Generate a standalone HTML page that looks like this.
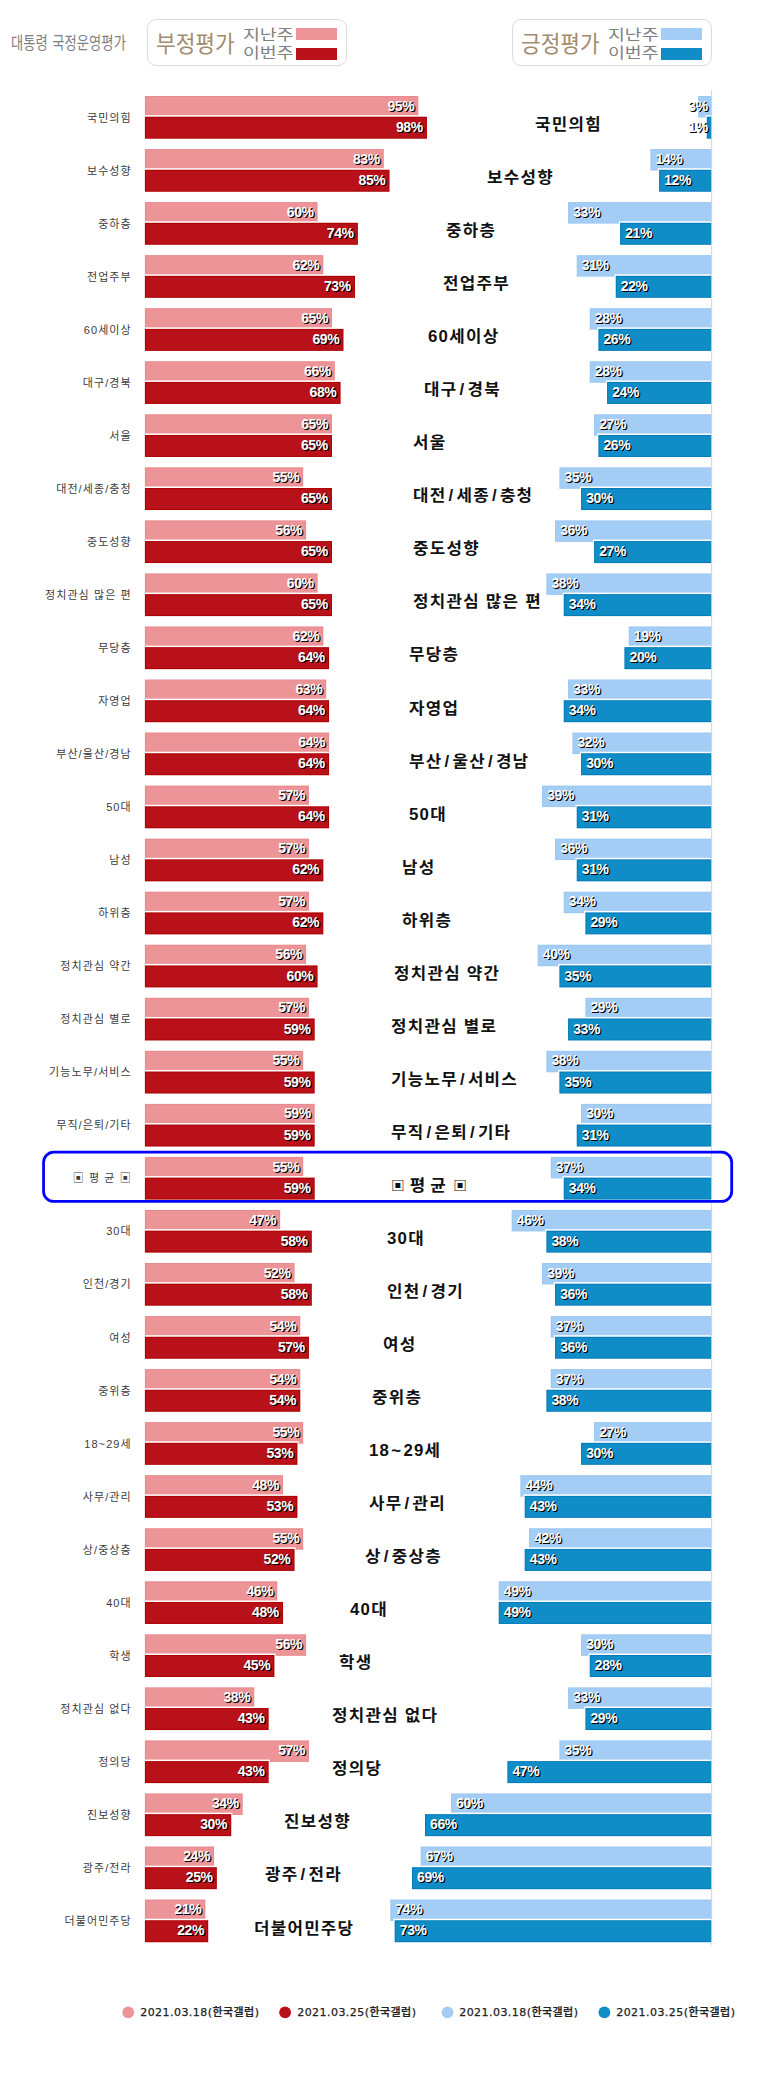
<!DOCTYPE html>
<html lang="ko"><head><meta charset="utf-8"><title>대통령 국정운영평가</title>
<style>
html,body{margin:0;padding:0;background:#fff}
body{width:767px;height:2100px;position:relative;overflow:hidden;font-family:"Liberation Sans","Noto Sans CJK KR",sans-serif}
svg{position:absolute;left:0;top:0}
div{position:absolute;white-space:nowrap}
.v{font:bold 14px/14px "Liberation Sans","Noto Sans CJK KR",sans-serif;color:#fff;text-shadow:1px 1px 0 #000,1.3px 1.3px 0 rgba(0,0,0,.55);letter-spacing:-.4px}
.s{right:635.2px;font:400 11px/16px "Liberation Sans","Noto Sans CJK KR",sans-serif;color:#3c3c3c;letter-spacing:1.1px}
.c span{padding:0 1.95px}
.c em{font-style:normal;padding:0 1px}
.avg{letter-spacing:0;word-spacing:-2px}
.avg span{font-size:13px;padding:0;position:relative;top:-1px}
.c{font:700 16px/24px "Liberation Sans","Noto Sans CJK KR",sans-serif;color:#111;letter-spacing:1.2px;transform:scaleX(1.05);transform-origin:0 0}
.ttl{left:11.1px;top:30.5px;font:400 16.5px/24px "Liberation Sans","Noto Sans CJK KR",sans-serif;color:#7f7f7f;transform:scale(.808,1.03);transform-origin:0 82%;word-spacing:1px}
.lg{top:18.5px;width:198px;height:45px;border:1px solid #ddd;border-radius:9px;background:#fff}
.lg b{position:absolute;left:8px;top:10px;font:400 23px/28px "Liberation Sans","Noto Sans CJK KR",sans-serif;color:#a38b6d;transform:scaleX(.93);transform-origin:0 0}
.lg i{position:absolute;left:95px;font:400 15px/16px "Liberation Sans","Noto Sans CJK KR",sans-serif;font-style:normal;color:#808080;transform:scaleX(1.22);transform-origin:0 0}
.lg u{position:absolute;left:148px;width:41.2px;height:11.7px}
.bl{top:2005.3px;font:500 11px/16px "DejaVu Sans","Noto Sans CJK KR",sans-serif;color:#222;letter-spacing:.45px;-webkit-text-stroke:.25px #222}
</style></head><body>
<svg width="767" height="2100" viewBox="0 0 767 2100">
<rect x="711.1" y="90" width="1" height="1855" fill="#c9d6ee"/>
<rect x="144.9" y="96" width="273.41" height="21.5" fill="#e98a8e"/>
<rect x="145.9" y="97" width="271.41" height="19.5" fill="#ec9497"/>
<rect x="698.1" y="96" width="13" height="21.5" fill="#9cc8f2"/>
<rect x="699.1" y="97" width="12" height="19.5" fill="#a3cdf5"/>
<rect x="144.9" y="115.2" width="283.24" height="23.5" fill="#fff"/>
<rect x="705.56" y="115.2" width="5.54" height="23.5" fill="#fff"/>
<rect x="144.9" y="116.7" width="282.04" height="22" fill="#ae0002"/>
<rect x="145.9" y="117.7" width="280.04" height="20" fill="#b8111a"/>
<rect x="706.76" y="116.7" width="4.34" height="22" fill="#047cba"/>
<rect x="707.76" y="117.7" width="3.34" height="20" fill="#108cc7"/>
<rect x="144.9" y="149.05" width="238.87" height="21.5" fill="#e98a8e"/>
<rect x="145.9" y="150.05" width="236.87" height="19.5" fill="#ec9497"/>
<rect x="650.41" y="149.05" width="60.69" height="21.5" fill="#9cc8f2"/>
<rect x="651.41" y="150.05" width="59.69" height="19.5" fill="#a3cdf5"/>
<rect x="144.9" y="168.25" width="245.83" height="23.5" fill="#fff"/>
<rect x="657.88" y="168.25" width="53.22" height="23.5" fill="#fff"/>
<rect x="144.9" y="169.75" width="244.63" height="22" fill="#ae0002"/>
<rect x="145.9" y="170.75" width="242.63" height="20" fill="#b8111a"/>
<rect x="659.08" y="169.75" width="52.02" height="22" fill="#047cba"/>
<rect x="660.08" y="170.75" width="51.02" height="20" fill="#108cc7"/>
<rect x="144.9" y="202.09" width="172.68" height="21.5" fill="#e98a8e"/>
<rect x="145.9" y="203.09" width="170.68" height="19.5" fill="#ec9497"/>
<rect x="568.05" y="202.09" width="143.05" height="21.5" fill="#9cc8f2"/>
<rect x="569.05" y="203.09" width="142.05" height="19.5" fill="#a3cdf5"/>
<rect x="144.9" y="221.29" width="214.17" height="23.5" fill="#fff"/>
<rect x="618.87" y="221.29" width="92.23" height="23.5" fill="#fff"/>
<rect x="144.9" y="222.79" width="212.97" height="22" fill="#ae0002"/>
<rect x="145.9" y="223.79" width="210.97" height="20" fill="#b8111a"/>
<rect x="620.07" y="222.79" width="91.03" height="22" fill="#047cba"/>
<rect x="621.07" y="223.79" width="90.03" height="20" fill="#108cc7"/>
<rect x="144.9" y="255.13" width="178.44" height="21.5" fill="#e98a8e"/>
<rect x="145.9" y="256.13" width="176.44" height="19.5" fill="#ec9497"/>
<rect x="576.72" y="255.13" width="134.38" height="21.5" fill="#9cc8f2"/>
<rect x="577.72" y="256.13" width="133.38" height="19.5" fill="#a3cdf5"/>
<rect x="144.9" y="274.33" width="211.29" height="23.5" fill="#fff"/>
<rect x="614.53" y="274.33" width="96.57" height="23.5" fill="#fff"/>
<rect x="144.9" y="275.83" width="210.09" height="22" fill="#ae0002"/>
<rect x="145.9" y="276.83" width="208.09" height="20" fill="#b8111a"/>
<rect x="615.73" y="275.83" width="95.37" height="22" fill="#047cba"/>
<rect x="616.73" y="276.83" width="94.37" height="20" fill="#108cc7"/>
<rect x="144.9" y="308.18" width="187.07" height="21.5" fill="#e98a8e"/>
<rect x="145.9" y="309.18" width="185.07" height="19.5" fill="#ec9497"/>
<rect x="589.72" y="308.18" width="121.38" height="21.5" fill="#9cc8f2"/>
<rect x="590.72" y="309.18" width="120.38" height="19.5" fill="#a3cdf5"/>
<rect x="144.9" y="327.38" width="199.78" height="23.5" fill="#fff"/>
<rect x="597.19" y="327.38" width="113.91" height="23.5" fill="#fff"/>
<rect x="144.9" y="328.88" width="198.58" height="22" fill="#ae0002"/>
<rect x="145.9" y="329.88" width="196.58" height="20" fill="#b8111a"/>
<rect x="598.39" y="328.88" width="112.71" height="22" fill="#047cba"/>
<rect x="599.39" y="329.88" width="111.71" height="20" fill="#108cc7"/>
<rect x="144.9" y="361.23" width="189.95" height="21.5" fill="#e98a8e"/>
<rect x="145.9" y="362.23" width="187.95" height="19.5" fill="#ec9497"/>
<rect x="589.72" y="361.23" width="121.38" height="21.5" fill="#9cc8f2"/>
<rect x="590.72" y="362.23" width="120.38" height="19.5" fill="#a3cdf5"/>
<rect x="144.9" y="380.43" width="196.9" height="23.5" fill="#fff"/>
<rect x="605.86" y="380.43" width="105.24" height="23.5" fill="#fff"/>
<rect x="144.9" y="381.93" width="195.7" height="22" fill="#ae0002"/>
<rect x="145.9" y="382.93" width="193.7" height="20" fill="#b8111a"/>
<rect x="607.06" y="381.93" width="104.04" height="22" fill="#047cba"/>
<rect x="608.06" y="382.93" width="103.04" height="20" fill="#108cc7"/>
<rect x="144.9" y="414.27" width="187.07" height="21.5" fill="#e98a8e"/>
<rect x="145.9" y="415.27" width="185.07" height="19.5" fill="#ec9497"/>
<rect x="594.06" y="414.27" width="117.04" height="21.5" fill="#9cc8f2"/>
<rect x="595.06" y="415.27" width="116.04" height="19.5" fill="#a3cdf5"/>
<rect x="144.9" y="433.47" width="188.27" height="23.5" fill="#fff"/>
<rect x="597.19" y="433.47" width="113.91" height="23.5" fill="#fff"/>
<rect x="144.9" y="434.97" width="187.07" height="22" fill="#ae0002"/>
<rect x="145.9" y="435.97" width="185.07" height="20" fill="#b8111a"/>
<rect x="598.39" y="434.97" width="112.71" height="22" fill="#047cba"/>
<rect x="599.39" y="435.97" width="111.71" height="20" fill="#108cc7"/>
<rect x="144.9" y="467.31" width="158.29" height="21.5" fill="#e98a8e"/>
<rect x="145.9" y="468.31" width="156.29" height="19.5" fill="#ec9497"/>
<rect x="559.38" y="467.31" width="151.73" height="21.5" fill="#9cc8f2"/>
<rect x="560.38" y="468.31" width="150.73" height="19.5" fill="#a3cdf5"/>
<rect x="144.9" y="486.51" width="188.27" height="23.5" fill="#fff"/>
<rect x="579.85" y="486.51" width="131.25" height="23.5" fill="#fff"/>
<rect x="144.9" y="488.01" width="187.07" height="22" fill="#ae0002"/>
<rect x="145.9" y="489.01" width="185.07" height="20" fill="#b8111a"/>
<rect x="581.05" y="488.01" width="130.05" height="22" fill="#047cba"/>
<rect x="582.05" y="489.01" width="129.05" height="20" fill="#108cc7"/>
<rect x="144.9" y="520.36" width="161.17" height="21.5" fill="#e98a8e"/>
<rect x="145.9" y="521.36" width="159.17" height="19.5" fill="#ec9497"/>
<rect x="555.04" y="520.36" width="156.06" height="21.5" fill="#9cc8f2"/>
<rect x="556.04" y="521.36" width="155.06" height="19.5" fill="#a3cdf5"/>
<rect x="144.9" y="539.56" width="188.27" height="23.5" fill="#fff"/>
<rect x="592.86" y="539.56" width="118.24" height="23.5" fill="#fff"/>
<rect x="144.9" y="541.06" width="187.07" height="22" fill="#ae0002"/>
<rect x="145.9" y="542.06" width="185.07" height="20" fill="#b8111a"/>
<rect x="594.06" y="541.06" width="117.04" height="22" fill="#047cba"/>
<rect x="595.06" y="542.06" width="116.04" height="20" fill="#108cc7"/>
<rect x="144.9" y="573.4" width="172.68" height="21.5" fill="#e98a8e"/>
<rect x="145.9" y="574.4" width="170.68" height="19.5" fill="#ec9497"/>
<rect x="546.37" y="573.4" width="164.73" height="21.5" fill="#9cc8f2"/>
<rect x="547.37" y="574.4" width="163.73" height="19.5" fill="#a3cdf5"/>
<rect x="144.9" y="592.61" width="188.27" height="23.5" fill="#fff"/>
<rect x="562.51" y="592.61" width="148.59" height="23.5" fill="#fff"/>
<rect x="144.9" y="594.11" width="187.07" height="22" fill="#ae0002"/>
<rect x="145.9" y="595.11" width="185.07" height="20" fill="#b8111a"/>
<rect x="563.71" y="594.11" width="147.39" height="22" fill="#047cba"/>
<rect x="564.71" y="595.11" width="146.39" height="20" fill="#108cc7"/>
<rect x="144.9" y="626.45" width="178.44" height="21.5" fill="#e98a8e"/>
<rect x="145.9" y="627.45" width="176.44" height="19.5" fill="#ec9497"/>
<rect x="628.74" y="626.45" width="82.37" height="21.5" fill="#9cc8f2"/>
<rect x="629.74" y="627.45" width="81.37" height="19.5" fill="#a3cdf5"/>
<rect x="144.9" y="645.65" width="185.39" height="23.5" fill="#fff"/>
<rect x="623.2" y="645.65" width="87.9" height="23.5" fill="#fff"/>
<rect x="144.9" y="647.15" width="184.19" height="22" fill="#ae0002"/>
<rect x="145.9" y="648.15" width="182.19" height="20" fill="#b8111a"/>
<rect x="624.4" y="647.15" width="86.7" height="22" fill="#047cba"/>
<rect x="625.4" y="648.15" width="85.7" height="20" fill="#108cc7"/>
<rect x="144.9" y="679.5" width="181.31" height="21.5" fill="#e98a8e"/>
<rect x="145.9" y="680.5" width="179.31" height="19.5" fill="#ec9497"/>
<rect x="568.05" y="679.5" width="143.05" height="21.5" fill="#9cc8f2"/>
<rect x="569.05" y="680.5" width="142.05" height="19.5" fill="#a3cdf5"/>
<rect x="144.9" y="698.7" width="185.39" height="23.5" fill="#fff"/>
<rect x="562.51" y="698.7" width="148.59" height="23.5" fill="#fff"/>
<rect x="144.9" y="700.2" width="184.19" height="22" fill="#ae0002"/>
<rect x="145.9" y="701.2" width="182.19" height="20" fill="#b8111a"/>
<rect x="563.71" y="700.2" width="147.39" height="22" fill="#047cba"/>
<rect x="564.71" y="701.2" width="146.39" height="20" fill="#108cc7"/>
<rect x="144.9" y="732.54" width="184.19" height="21.5" fill="#e98a8e"/>
<rect x="145.9" y="733.54" width="182.19" height="19.5" fill="#ec9497"/>
<rect x="572.38" y="732.54" width="138.72" height="21.5" fill="#9cc8f2"/>
<rect x="573.38" y="733.54" width="137.72" height="19.5" fill="#a3cdf5"/>
<rect x="144.9" y="751.74" width="185.39" height="23.5" fill="#fff"/>
<rect x="579.85" y="751.74" width="131.25" height="23.5" fill="#fff"/>
<rect x="144.9" y="753.24" width="184.19" height="22" fill="#ae0002"/>
<rect x="145.9" y="754.24" width="182.19" height="20" fill="#b8111a"/>
<rect x="581.05" y="753.24" width="130.05" height="22" fill="#047cba"/>
<rect x="582.05" y="754.24" width="129.05" height="20" fill="#108cc7"/>
<rect x="144.9" y="785.59" width="164.05" height="21.5" fill="#e98a8e"/>
<rect x="145.9" y="786.59" width="162.05" height="19.5" fill="#ec9497"/>
<rect x="542.04" y="785.59" width="169.06" height="21.5" fill="#9cc8f2"/>
<rect x="543.04" y="786.59" width="168.06" height="19.5" fill="#a3cdf5"/>
<rect x="144.9" y="804.79" width="185.39" height="23.5" fill="#fff"/>
<rect x="575.51" y="804.79" width="135.58" height="23.5" fill="#fff"/>
<rect x="144.9" y="806.29" width="184.19" height="22" fill="#ae0002"/>
<rect x="145.9" y="807.29" width="182.19" height="20" fill="#b8111a"/>
<rect x="576.72" y="806.29" width="134.38" height="22" fill="#047cba"/>
<rect x="577.72" y="807.29" width="133.38" height="20" fill="#108cc7"/>
<rect x="144.9" y="838.63" width="164.05" height="21.5" fill="#e98a8e"/>
<rect x="145.9" y="839.63" width="162.05" height="19.5" fill="#ec9497"/>
<rect x="555.04" y="838.63" width="156.06" height="21.5" fill="#9cc8f2"/>
<rect x="556.04" y="839.63" width="155.06" height="19.5" fill="#a3cdf5"/>
<rect x="144.9" y="857.83" width="179.64" height="23.5" fill="#fff"/>
<rect x="575.51" y="857.83" width="135.58" height="23.5" fill="#fff"/>
<rect x="144.9" y="859.33" width="178.44" height="22" fill="#ae0002"/>
<rect x="145.9" y="860.33" width="176.44" height="20" fill="#b8111a"/>
<rect x="576.72" y="859.33" width="134.38" height="22" fill="#047cba"/>
<rect x="577.72" y="860.33" width="133.38" height="20" fill="#108cc7"/>
<rect x="144.9" y="891.68" width="164.05" height="21.5" fill="#e98a8e"/>
<rect x="145.9" y="892.68" width="162.05" height="19.5" fill="#ec9497"/>
<rect x="563.71" y="891.68" width="147.39" height="21.5" fill="#9cc8f2"/>
<rect x="564.71" y="892.68" width="146.39" height="19.5" fill="#a3cdf5"/>
<rect x="144.9" y="910.88" width="179.64" height="23.5" fill="#fff"/>
<rect x="584.18" y="910.88" width="126.92" height="23.5" fill="#fff"/>
<rect x="144.9" y="912.38" width="178.44" height="22" fill="#ae0002"/>
<rect x="145.9" y="913.38" width="176.44" height="20" fill="#b8111a"/>
<rect x="585.38" y="912.38" width="125.72" height="22" fill="#047cba"/>
<rect x="586.38" y="913.38" width="124.72" height="20" fill="#108cc7"/>
<rect x="144.9" y="944.72" width="161.17" height="21.5" fill="#e98a8e"/>
<rect x="145.9" y="945.72" width="159.17" height="19.5" fill="#ec9497"/>
<rect x="537.7" y="944.72" width="173.4" height="21.5" fill="#9cc8f2"/>
<rect x="538.7" y="945.72" width="172.4" height="19.5" fill="#a3cdf5"/>
<rect x="144.9" y="963.92" width="173.88" height="23.5" fill="#fff"/>
<rect x="558.17" y="963.92" width="152.93" height="23.5" fill="#fff"/>
<rect x="144.9" y="965.42" width="172.68" height="22" fill="#ae0002"/>
<rect x="145.9" y="966.42" width="170.68" height="20" fill="#b8111a"/>
<rect x="559.38" y="965.42" width="151.73" height="22" fill="#047cba"/>
<rect x="560.38" y="966.42" width="150.73" height="20" fill="#108cc7"/>
<rect x="144.9" y="997.76" width="164.05" height="21.5" fill="#e98a8e"/>
<rect x="145.9" y="998.76" width="162.05" height="19.5" fill="#ec9497"/>
<rect x="585.38" y="997.76" width="125.72" height="21.5" fill="#9cc8f2"/>
<rect x="586.38" y="998.76" width="124.72" height="19.5" fill="#a3cdf5"/>
<rect x="144.9" y="1016.97" width="171" height="23.5" fill="#fff"/>
<rect x="566.85" y="1016.97" width="144.25" height="23.5" fill="#fff"/>
<rect x="144.9" y="1018.47" width="169.8" height="22" fill="#ae0002"/>
<rect x="145.9" y="1019.47" width="167.8" height="20" fill="#b8111a"/>
<rect x="568.05" y="1018.47" width="143.05" height="22" fill="#047cba"/>
<rect x="569.05" y="1019.47" width="142.05" height="20" fill="#108cc7"/>
<rect x="144.9" y="1050.81" width="158.29" height="21.5" fill="#e98a8e"/>
<rect x="145.9" y="1051.81" width="156.29" height="19.5" fill="#ec9497"/>
<rect x="546.37" y="1050.81" width="164.73" height="21.5" fill="#9cc8f2"/>
<rect x="547.37" y="1051.81" width="163.73" height="19.5" fill="#a3cdf5"/>
<rect x="144.9" y="1070.01" width="171" height="23.5" fill="#fff"/>
<rect x="558.17" y="1070.01" width="152.93" height="23.5" fill="#fff"/>
<rect x="144.9" y="1071.51" width="169.8" height="22" fill="#ae0002"/>
<rect x="145.9" y="1072.51" width="167.8" height="20" fill="#b8111a"/>
<rect x="559.38" y="1071.51" width="151.73" height="22" fill="#047cba"/>
<rect x="560.38" y="1072.51" width="150.73" height="20" fill="#108cc7"/>
<rect x="144.9" y="1103.86" width="169.8" height="21.5" fill="#e98a8e"/>
<rect x="145.9" y="1104.86" width="167.8" height="19.5" fill="#ec9497"/>
<rect x="581.05" y="1103.86" width="130.05" height="21.5" fill="#9cc8f2"/>
<rect x="582.05" y="1104.86" width="129.05" height="19.5" fill="#a3cdf5"/>
<rect x="144.9" y="1123.06" width="171" height="23.5" fill="#fff"/>
<rect x="575.51" y="1123.06" width="135.58" height="23.5" fill="#fff"/>
<rect x="144.9" y="1124.56" width="169.8" height="22" fill="#ae0002"/>
<rect x="145.9" y="1125.56" width="167.8" height="20" fill="#b8111a"/>
<rect x="576.72" y="1124.56" width="134.38" height="22" fill="#047cba"/>
<rect x="577.72" y="1125.56" width="133.38" height="20" fill="#108cc7"/>
<rect x="144.9" y="1156.9" width="158.29" height="21.5" fill="#e98a8e"/>
<rect x="145.9" y="1157.9" width="156.29" height="19.5" fill="#ec9497"/>
<rect x="550.71" y="1156.9" width="160.39" height="21.5" fill="#9cc8f2"/>
<rect x="551.71" y="1157.9" width="159.39" height="19.5" fill="#a3cdf5"/>
<rect x="144.9" y="1176.1" width="171" height="23.5" fill="#fff"/>
<rect x="562.51" y="1176.1" width="148.59" height="23.5" fill="#fff"/>
<rect x="144.9" y="1177.6" width="169.8" height="22" fill="#ae0002"/>
<rect x="145.9" y="1178.6" width="167.8" height="20" fill="#b8111a"/>
<rect x="563.71" y="1177.6" width="147.39" height="22" fill="#047cba"/>
<rect x="564.71" y="1178.6" width="146.39" height="20" fill="#108cc7"/>
<rect x="144.9" y="1209.94" width="135.27" height="21.5" fill="#e98a8e"/>
<rect x="145.9" y="1210.94" width="133.27" height="19.5" fill="#ec9497"/>
<rect x="511.69" y="1209.94" width="199.41" height="21.5" fill="#9cc8f2"/>
<rect x="512.69" y="1210.94" width="198.41" height="19.5" fill="#a3cdf5"/>
<rect x="144.9" y="1229.14" width="168.12" height="23.5" fill="#fff"/>
<rect x="545.17" y="1229.14" width="165.93" height="23.5" fill="#fff"/>
<rect x="144.9" y="1230.64" width="166.92" height="22" fill="#ae0002"/>
<rect x="145.9" y="1231.64" width="164.92" height="20" fill="#b8111a"/>
<rect x="546.37" y="1230.64" width="164.73" height="22" fill="#047cba"/>
<rect x="547.37" y="1231.64" width="163.73" height="20" fill="#108cc7"/>
<rect x="144.9" y="1262.99" width="149.66" height="21.5" fill="#e98a8e"/>
<rect x="145.9" y="1263.99" width="147.66" height="19.5" fill="#ec9497"/>
<rect x="542.04" y="1262.99" width="169.06" height="21.5" fill="#9cc8f2"/>
<rect x="543.04" y="1263.99" width="168.06" height="19.5" fill="#a3cdf5"/>
<rect x="144.9" y="1282.19" width="168.12" height="23.5" fill="#fff"/>
<rect x="553.84" y="1282.19" width="157.26" height="23.5" fill="#fff"/>
<rect x="144.9" y="1283.69" width="166.92" height="22" fill="#ae0002"/>
<rect x="145.9" y="1284.69" width="164.92" height="20" fill="#b8111a"/>
<rect x="555.04" y="1283.69" width="156.06" height="22" fill="#047cba"/>
<rect x="556.04" y="1284.69" width="155.06" height="20" fill="#108cc7"/>
<rect x="144.9" y="1316.04" width="155.41" height="21.5" fill="#e98a8e"/>
<rect x="145.9" y="1317.04" width="153.41" height="19.5" fill="#ec9497"/>
<rect x="550.71" y="1316.04" width="160.39" height="21.5" fill="#9cc8f2"/>
<rect x="551.71" y="1317.04" width="159.39" height="19.5" fill="#a3cdf5"/>
<rect x="144.9" y="1335.24" width="165.25" height="23.5" fill="#fff"/>
<rect x="553.84" y="1335.24" width="157.26" height="23.5" fill="#fff"/>
<rect x="144.9" y="1336.74" width="164.05" height="22" fill="#ae0002"/>
<rect x="145.9" y="1337.74" width="162.05" height="20" fill="#b8111a"/>
<rect x="555.04" y="1336.74" width="156.06" height="22" fill="#047cba"/>
<rect x="556.04" y="1337.74" width="155.06" height="20" fill="#108cc7"/>
<rect x="144.9" y="1369.08" width="155.41" height="21.5" fill="#e98a8e"/>
<rect x="145.9" y="1370.08" width="153.41" height="19.5" fill="#ec9497"/>
<rect x="550.71" y="1369.08" width="160.39" height="21.5" fill="#9cc8f2"/>
<rect x="551.71" y="1370.08" width="159.39" height="19.5" fill="#a3cdf5"/>
<rect x="144.9" y="1388.28" width="156.61" height="23.5" fill="#fff"/>
<rect x="545.17" y="1388.28" width="165.93" height="23.5" fill="#fff"/>
<rect x="144.9" y="1389.78" width="155.41" height="22" fill="#ae0002"/>
<rect x="145.9" y="1390.78" width="153.41" height="20" fill="#b8111a"/>
<rect x="546.37" y="1389.78" width="164.73" height="22" fill="#047cba"/>
<rect x="547.37" y="1390.78" width="163.73" height="20" fill="#108cc7"/>
<rect x="144.9" y="1422.12" width="158.29" height="21.5" fill="#e98a8e"/>
<rect x="145.9" y="1423.12" width="156.29" height="19.5" fill="#ec9497"/>
<rect x="594.06" y="1422.12" width="117.04" height="21.5" fill="#9cc8f2"/>
<rect x="595.06" y="1423.12" width="116.04" height="19.5" fill="#a3cdf5"/>
<rect x="144.9" y="1441.33" width="153.73" height="23.5" fill="#fff"/>
<rect x="579.85" y="1441.33" width="131.25" height="23.5" fill="#fff"/>
<rect x="144.9" y="1442.83" width="152.53" height="22" fill="#ae0002"/>
<rect x="145.9" y="1443.83" width="150.53" height="20" fill="#b8111a"/>
<rect x="581.05" y="1442.83" width="130.05" height="22" fill="#047cba"/>
<rect x="582.05" y="1443.83" width="129.05" height="20" fill="#108cc7"/>
<rect x="144.9" y="1475.17" width="138.14" height="21.5" fill="#e98a8e"/>
<rect x="145.9" y="1476.17" width="136.14" height="19.5" fill="#ec9497"/>
<rect x="520.36" y="1475.17" width="190.74" height="21.5" fill="#9cc8f2"/>
<rect x="521.36" y="1476.17" width="189.74" height="19.5" fill="#a3cdf5"/>
<rect x="144.9" y="1494.37" width="153.73" height="23.5" fill="#fff"/>
<rect x="523.5" y="1494.37" width="187.6" height="23.5" fill="#fff"/>
<rect x="144.9" y="1495.87" width="152.53" height="22" fill="#ae0002"/>
<rect x="145.9" y="1496.87" width="150.53" height="20" fill="#b8111a"/>
<rect x="524.7" y="1495.87" width="186.4" height="22" fill="#047cba"/>
<rect x="525.7" y="1496.87" width="185.4" height="20" fill="#108cc7"/>
<rect x="144.9" y="1528.22" width="158.29" height="21.5" fill="#e98a8e"/>
<rect x="145.9" y="1529.22" width="156.29" height="19.5" fill="#ec9497"/>
<rect x="529.03" y="1528.22" width="182.07" height="21.5" fill="#9cc8f2"/>
<rect x="530.03" y="1529.22" width="181.07" height="19.5" fill="#a3cdf5"/>
<rect x="144.9" y="1547.42" width="150.86" height="23.5" fill="#fff"/>
<rect x="523.5" y="1547.42" width="187.6" height="23.5" fill="#fff"/>
<rect x="144.9" y="1548.92" width="149.66" height="22" fill="#ae0002"/>
<rect x="145.9" y="1549.92" width="147.66" height="20" fill="#b8111a"/>
<rect x="524.7" y="1548.92" width="186.4" height="22" fill="#047cba"/>
<rect x="525.7" y="1549.92" width="185.4" height="20" fill="#108cc7"/>
<rect x="144.9" y="1581.26" width="132.39" height="21.5" fill="#e98a8e"/>
<rect x="145.9" y="1582.26" width="130.39" height="19.5" fill="#ec9497"/>
<rect x="498.69" y="1581.26" width="212.41" height="21.5" fill="#9cc8f2"/>
<rect x="499.69" y="1582.26" width="211.41" height="19.5" fill="#a3cdf5"/>
<rect x="144.9" y="1600.46" width="139.34" height="23.5" fill="#fff"/>
<rect x="497.49" y="1600.46" width="213.61" height="23.5" fill="#fff"/>
<rect x="144.9" y="1601.96" width="138.14" height="22" fill="#ae0002"/>
<rect x="145.9" y="1602.96" width="136.14" height="20" fill="#b8111a"/>
<rect x="498.69" y="1601.96" width="212.41" height="22" fill="#047cba"/>
<rect x="499.69" y="1602.96" width="211.41" height="20" fill="#108cc7"/>
<rect x="144.9" y="1634.31" width="161.17" height="21.5" fill="#e98a8e"/>
<rect x="145.9" y="1635.31" width="159.17" height="19.5" fill="#ec9497"/>
<rect x="581.05" y="1634.31" width="130.05" height="21.5" fill="#9cc8f2"/>
<rect x="582.05" y="1635.31" width="129.05" height="19.5" fill="#a3cdf5"/>
<rect x="144.9" y="1653.51" width="130.71" height="23.5" fill="#fff"/>
<rect x="588.52" y="1653.51" width="122.58" height="23.5" fill="#fff"/>
<rect x="144.9" y="1655.01" width="129.51" height="22" fill="#ae0002"/>
<rect x="145.9" y="1656.01" width="127.51" height="20" fill="#b8111a"/>
<rect x="589.72" y="1655.01" width="121.38" height="22" fill="#047cba"/>
<rect x="590.72" y="1656.01" width="120.38" height="20" fill="#108cc7"/>
<rect x="144.9" y="1687.35" width="109.36" height="21.5" fill="#e98a8e"/>
<rect x="145.9" y="1688.35" width="107.36" height="19.5" fill="#ec9497"/>
<rect x="568.05" y="1687.35" width="143.05" height="21.5" fill="#9cc8f2"/>
<rect x="569.05" y="1688.35" width="142.05" height="19.5" fill="#a3cdf5"/>
<rect x="144.9" y="1706.55" width="124.95" height="23.5" fill="#fff"/>
<rect x="584.18" y="1706.55" width="126.92" height="23.5" fill="#fff"/>
<rect x="144.9" y="1708.05" width="123.75" height="22" fill="#ae0002"/>
<rect x="145.9" y="1709.05" width="121.75" height="20" fill="#b8111a"/>
<rect x="585.38" y="1708.05" width="125.72" height="22" fill="#047cba"/>
<rect x="586.38" y="1709.05" width="124.72" height="20" fill="#108cc7"/>
<rect x="144.9" y="1740.39" width="164.05" height="21.5" fill="#e98a8e"/>
<rect x="145.9" y="1741.39" width="162.05" height="19.5" fill="#ec9497"/>
<rect x="559.38" y="1740.39" width="151.73" height="21.5" fill="#9cc8f2"/>
<rect x="560.38" y="1741.39" width="150.73" height="19.5" fill="#a3cdf5"/>
<rect x="144.9" y="1759.6" width="124.95" height="23.5" fill="#fff"/>
<rect x="506.16" y="1759.6" width="204.94" height="23.5" fill="#fff"/>
<rect x="144.9" y="1761.1" width="123.75" height="22" fill="#ae0002"/>
<rect x="145.9" y="1762.1" width="121.75" height="20" fill="#b8111a"/>
<rect x="507.36" y="1761.1" width="203.75" height="22" fill="#047cba"/>
<rect x="508.36" y="1762.1" width="202.75" height="20" fill="#108cc7"/>
<rect x="144.9" y="1793.44" width="97.85" height="21.5" fill="#e98a8e"/>
<rect x="145.9" y="1794.44" width="95.85" height="19.5" fill="#ec9497"/>
<rect x="451" y="1793.44" width="260.1" height="21.5" fill="#9cc8f2"/>
<rect x="452" y="1794.44" width="259.1" height="19.5" fill="#a3cdf5"/>
<rect x="144.9" y="1812.64" width="87.54" height="23.5" fill="#fff"/>
<rect x="423.79" y="1812.64" width="287.31" height="23.5" fill="#fff"/>
<rect x="144.9" y="1814.14" width="86.34" height="22" fill="#ae0002"/>
<rect x="145.9" y="1815.14" width="84.34" height="20" fill="#b8111a"/>
<rect x="424.99" y="1814.14" width="286.11" height="22" fill="#047cba"/>
<rect x="425.99" y="1815.14" width="285.11" height="20" fill="#108cc7"/>
<rect x="144.9" y="1846.49" width="69.07" height="21.5" fill="#e98a8e"/>
<rect x="145.9" y="1847.49" width="67.07" height="19.5" fill="#ec9497"/>
<rect x="420.66" y="1846.49" width="290.44" height="21.5" fill="#9cc8f2"/>
<rect x="421.66" y="1847.49" width="289.44" height="19.5" fill="#a3cdf5"/>
<rect x="144.9" y="1865.69" width="73.15" height="23.5" fill="#fff"/>
<rect x="410.79" y="1865.69" width="300.31" height="23.5" fill="#fff"/>
<rect x="144.9" y="1867.19" width="71.95" height="22" fill="#ae0002"/>
<rect x="145.9" y="1868.19" width="69.95" height="20" fill="#b8111a"/>
<rect x="411.99" y="1867.19" width="299.12" height="22" fill="#047cba"/>
<rect x="412.99" y="1868.19" width="298.12" height="20" fill="#108cc7"/>
<rect x="144.9" y="1899.53" width="60.44" height="21.5" fill="#e98a8e"/>
<rect x="145.9" y="1900.53" width="58.44" height="19.5" fill="#ec9497"/>
<rect x="390.31" y="1899.53" width="320.79" height="21.5" fill="#9cc8f2"/>
<rect x="391.31" y="1900.53" width="319.79" height="19.5" fill="#a3cdf5"/>
<rect x="144.9" y="1918.73" width="64.52" height="23.5" fill="#fff"/>
<rect x="393.45" y="1918.73" width="317.65" height="23.5" fill="#fff"/>
<rect x="144.9" y="1920.23" width="63.32" height="22" fill="#ae0002"/>
<rect x="145.9" y="1921.23" width="61.32" height="20" fill="#b8111a"/>
<rect x="394.65" y="1920.23" width="316.45" height="22" fill="#047cba"/>
<rect x="395.65" y="1921.23" width="315.45" height="20" fill="#108cc7"/>
<circle cx="128.2" cy="2012.3" r="5.9" fill="#ec9497"/>
<circle cx="285.1" cy="2012.3" r="5.9" fill="#b8111a"/>
<circle cx="447.5" cy="2012.3" r="5.9" fill="#a3cdf5"/>
<circle cx="604.4" cy="2012.3" r="5.9" fill="#108cc7"/>
<rect x="43.55" y="1152.2" width="688.15" height="49.2" rx="10.2" ry="10.2" fill="none" stroke="#0303fb" stroke-width="2.8"/>
</svg>
<div class="ttl">대통령 국정운영평가</div>
<div class="lg" style="left:147px"><b>부정평가</b><i style="top:7.5px">지난주</i><i style="top:25.5px">이번주</i><u style="top:8.4px;background:#ec9497"></u><u style="top:28.5px;background:#b8111a"></u></div>
<div class="lg" style="left:512px"><b>긍정평가</b><i style="top:7.5px">지난주</i><i style="top:25.5px">이번주</i><u style="top:8.4px;background:#a3cdf5"></u><u style="top:28.5px;background:#108cc7"></u></div>
<div class="v r" style="top:98.6px;right:352.69px">95%</div>
<div class="v r" style="top:119.8px;right:344.26px">98%</div>
<div class="v r" style="top:98.6px;right:59.3px">3%</div>
<div class="v r" style="top:119.8px;right:59.3px">1%</div>
<div class="s" style="top:109.5px">국민의힘</div>
<div class="c" style="top:113px;left:535px">국민의힘</div>
<div class="v r" style="top:151.65px;right:387.23px">83%</div>
<div class="v r" style="top:172.85px;right:381.67px">85%</div>
<div class="v" style="top:151.65px;left:655.51px">14%</div>
<div class="v" style="top:172.85px;left:664.18px">12%</div>
<div class="s" style="top:162.55px">보수성향</div>
<div class="c" style="top:166.05px;left:486.93px">보수성향</div>
<div class="v r" style="top:204.69px;right:453.42px">60%</div>
<div class="v r" style="top:225.89px;right:413.33px">74%</div>
<div class="v" style="top:204.69px;left:573.15px">33%</div>
<div class="v" style="top:225.89px;left:625.17px">21%</div>
<div class="s" style="top:215.59px">중하층</div>
<div class="c" style="top:219.09px;left:446.25px">중하층</div>
<div class="v r" style="top:257.74px;right:447.66px">62%</div>
<div class="v r" style="top:278.94px;right:416.21px">73%</div>
<div class="v" style="top:257.74px;left:581.82px">31%</div>
<div class="v" style="top:278.94px;left:620.83px">22%</div>
<div class="s" style="top:268.63px">전업주부</div>
<div class="c" style="top:272.13px;left:442.55px">전업주부</div>
<div class="v r" style="top:310.78px;right:439.03px">65%</div>
<div class="v r" style="top:331.98px;right:427.72px">69%</div>
<div class="v" style="top:310.78px;left:594.82px">28%</div>
<div class="v" style="top:331.98px;left:603.49px">26%</div>
<div class="s" style="top:321.68px">60세이상</div>
<div class="c" style="top:325.18px;left:427.76px">60세이상</div>
<div class="v r" style="top:363.83px;right:436.15px">66%</div>
<div class="v r" style="top:385.03px;right:430.6px">68%</div>
<div class="v" style="top:363.83px;left:594.82px">28%</div>
<div class="v" style="top:385.03px;left:612.16px">24%</div>
<div class="s" style="top:374.73px">대구/경북</div>
<div class="c" style="top:378.23px;left:424.06px">대구<span>/</span>경북</div>
<div class="v r" style="top:416.87px;right:439.03px">65%</div>
<div class="v r" style="top:438.07px;right:439.23px">65%</div>
<div class="v" style="top:416.87px;left:599.16px">27%</div>
<div class="v" style="top:438.07px;left:603.49px">26%</div>
<div class="s" style="top:427.77px">서울</div>
<div class="c" style="top:431.27px;left:412.97px">서울</div>
<div class="v r" style="top:469.92px;right:467.81px">55%</div>
<div class="v r" style="top:491.12px;right:439.23px">65%</div>
<div class="v" style="top:469.92px;left:564.48px">35%</div>
<div class="v" style="top:491.12px;left:586.15px">30%</div>
<div class="s" style="top:480.81px">대전/세종/충청</div>
<div class="c" style="top:484.31px;left:412.97px">대전<span>/</span>세종<span>/</span>충청</div>
<div class="v r" style="top:522.96px;right:464.93px">56%</div>
<div class="v r" style="top:544.16px;right:439.23px">65%</div>
<div class="v" style="top:522.96px;left:560.14px">36%</div>
<div class="v" style="top:544.16px;left:599.16px">27%</div>
<div class="s" style="top:533.86px">중도성향</div>
<div class="c" style="top:537.36px;left:412.97px">중도성향</div>
<div class="v r" style="top:576px;right:453.42px">60%</div>
<div class="v r" style="top:597.2px;right:439.23px">65%</div>
<div class="v" style="top:576px;left:551.47px">38%</div>
<div class="v" style="top:597.2px;left:568.81px">34%</div>
<div class="s" style="top:586.9px">정치관심 많은 편</div>
<div class="c" style="top:590.4px;left:412.97px">정치관심 많은 편</div>
<div class="v r" style="top:629.05px;right:447.66px">62%</div>
<div class="v r" style="top:650.25px;right:442.11px">64%</div>
<div class="v" style="top:629.05px;left:633.84px">19%</div>
<div class="v" style="top:650.25px;left:629.5px">20%</div>
<div class="s" style="top:639.95px">무당층</div>
<div class="c" style="top:643.45px;left:409.27px">무당층</div>
<div class="v r" style="top:682.1px;right:444.79px">63%</div>
<div class="v r" style="top:703.29px;right:442.11px">64%</div>
<div class="v" style="top:682.1px;left:573.15px">33%</div>
<div class="v" style="top:703.29px;left:568.81px">34%</div>
<div class="s" style="top:693px">자영업</div>
<div class="c" style="top:696.5px;left:409.27px">자영업</div>
<div class="v r" style="top:735.14px;right:441.91px">64%</div>
<div class="v r" style="top:756.34px;right:442.11px">64%</div>
<div class="v" style="top:735.14px;left:577.48px">32%</div>
<div class="v" style="top:756.34px;left:586.15px">30%</div>
<div class="s" style="top:746.04px">부산/울산/경남</div>
<div class="c" style="top:749.54px;left:409.27px">부산<span>/</span>울산<span>/</span>경남</div>
<div class="v r" style="top:788.19px;right:462.05px">57%</div>
<div class="v r" style="top:809.38px;right:442.11px">64%</div>
<div class="v" style="top:788.19px;left:547.14px">39%</div>
<div class="v" style="top:809.38px;left:581.82px">31%</div>
<div class="s" style="top:799.09px">50대</div>
<div class="c" style="top:802.59px;left:409.27px">50대</div>
<div class="v r" style="top:841.23px;right:462.05px">57%</div>
<div class="v r" style="top:862.43px;right:447.86px">62%</div>
<div class="v" style="top:841.23px;left:560.14px">36%</div>
<div class="v" style="top:862.43px;left:581.82px">31%</div>
<div class="s" style="top:852.13px">남성</div>
<div class="c" style="top:855.63px;left:401.88px">남성</div>
<div class="v r" style="top:894.28px;right:462.05px">57%</div>
<div class="v r" style="top:915.48px;right:447.86px">62%</div>
<div class="v" style="top:894.28px;left:568.81px">34%</div>
<div class="v" style="top:915.48px;left:590.49px">29%</div>
<div class="s" style="top:905.18px">하위층</div>
<div class="c" style="top:908.68px;left:401.88px">하위층</div>
<div class="v r" style="top:947.32px;right:464.93px">56%</div>
<div class="v r" style="top:968.52px;right:453.62px">60%</div>
<div class="v" style="top:947.32px;left:542.8px">40%</div>
<div class="v" style="top:968.52px;left:564.48px">35%</div>
<div class="s" style="top:958.22px">정치관심 약간</div>
<div class="c" style="top:961.72px;left:394.48px">정치관심 약간</div>
<div class="v r" style="top:1000.37px;right:462.05px">57%</div>
<div class="v r" style="top:1021.56px;right:456.5px">59%</div>
<div class="v" style="top:1000.37px;left:590.49px">29%</div>
<div class="v" style="top:1021.56px;left:573.15px">33%</div>
<div class="s" style="top:1011.26px">정치관심 별로</div>
<div class="c" style="top:1014.76px;left:390.78px">정치관심 별로</div>
<div class="v r" style="top:1053.41px;right:467.81px">55%</div>
<div class="v r" style="top:1074.61px;right:456.5px">59%</div>
<div class="v" style="top:1053.41px;left:551.47px">38%</div>
<div class="v" style="top:1074.61px;left:564.48px">35%</div>
<div class="s" style="top:1064.31px">기능노무/서비스</div>
<div class="c" style="top:1067.81px;left:390.78px">기능노무<span>/</span>서비스</div>
<div class="v r" style="top:1106.45px;right:456.3px">59%</div>
<div class="v r" style="top:1127.65px;right:456.5px">59%</div>
<div class="v" style="top:1106.45px;left:586.15px">30%</div>
<div class="v" style="top:1127.65px;left:581.82px">31%</div>
<div class="s" style="top:1117.36px">무직/은퇴/기타</div>
<div class="c" style="top:1120.86px;left:390.78px">무직<span>/</span>은퇴<span>/</span>기타</div>
<div class="v r" style="top:1159.5px;right:467.81px">55%</div>
<div class="v r" style="top:1180.7px;right:456.5px">59%</div>
<div class="v" style="top:1159.5px;left:555.81px">37%</div>
<div class="v" style="top:1180.7px;left:568.81px">34%</div>
<div class="s" style="top:1170.4px">▣ 평 균 ▣</div>
<div class="c avg" style="top:1173.9px;left:390.78px"><span>▣</span> 평 균 <span style="margin-left:2.4px">▣</span></div>
<div class="v r" style="top:1212.54px;right:490.83px">47%</div>
<div class="v r" style="top:1233.74px;right:459.38px">58%</div>
<div class="v" style="top:1212.54px;left:516.79px">46%</div>
<div class="v" style="top:1233.74px;left:551.47px">38%</div>
<div class="s" style="top:1223.44px">30대</div>
<div class="c" style="top:1226.94px;left:387.08px">30대</div>
<div class="v r" style="top:1265.59px;right:476.44px">52%</div>
<div class="v r" style="top:1286.79px;right:459.38px">58%</div>
<div class="v" style="top:1265.59px;left:547.14px">39%</div>
<div class="v" style="top:1286.79px;left:560.14px">36%</div>
<div class="s" style="top:1276.49px">인천/경기</div>
<div class="c" style="top:1279.99px;left:387.08px">인천<span>/</span>경기</div>
<div class="v r" style="top:1318.63px;right:470.69px">54%</div>
<div class="v r" style="top:1339.84px;right:462.25px">57%</div>
<div class="v" style="top:1318.63px;left:555.81px">37%</div>
<div class="v" style="top:1339.84px;left:560.14px">36%</div>
<div class="s" style="top:1329.54px">여성</div>
<div class="c" style="top:1333.04px;left:383.39px">여성</div>
<div class="v r" style="top:1371.68px;right:470.69px">54%</div>
<div class="v r" style="top:1392.88px;right:470.89px">54%</div>
<div class="v" style="top:1371.68px;left:555.81px">37%</div>
<div class="v" style="top:1392.88px;left:551.47px">38%</div>
<div class="s" style="top:1382.58px">중위층</div>
<div class="c" style="top:1386.08px;left:372.29px">중위층</div>
<div class="v r" style="top:1424.72px;right:467.81px">55%</div>
<div class="v r" style="top:1445.92px;right:473.77px">53%</div>
<div class="v" style="top:1424.72px;left:599.16px">27%</div>
<div class="v" style="top:1445.92px;left:586.15px">30%</div>
<div class="s" style="top:1435.62px">18~29세</div>
<div class="c" style="top:1439.12px;left:368.59px">18<em>~</em>29세</div>
<div class="v r" style="top:1477.77px;right:487.96px">48%</div>
<div class="v r" style="top:1498.97px;right:473.77px">53%</div>
<div class="v" style="top:1477.77px;left:525.46px">44%</div>
<div class="v" style="top:1498.97px;left:529.8px">43%</div>
<div class="s" style="top:1488.67px">사무/관리</div>
<div class="c" style="top:1492.17px;left:368.59px">사무<span>/</span>관리</div>
<div class="v r" style="top:1530.82px;right:467.81px">55%</div>
<div class="v r" style="top:1552.02px;right:476.64px">52%</div>
<div class="v" style="top:1530.82px;left:534.13px">42%</div>
<div class="v" style="top:1552.02px;left:529.8px">43%</div>
<div class="s" style="top:1541.72px">상/중상층</div>
<div class="c" style="top:1545.22px;left:364.9px">상<span>/</span>중상층</div>
<div class="v r" style="top:1583.86px;right:493.71px">46%</div>
<div class="v r" style="top:1605.06px;right:488.16px">48%</div>
<div class="v" style="top:1583.86px;left:503.79px">49%</div>
<div class="v" style="top:1605.06px;left:503.79px">49%</div>
<div class="s" style="top:1594.76px">40대</div>
<div class="c" style="top:1598.26px;left:350.1px">40대</div>
<div class="v r" style="top:1636.9px;right:464.93px">56%</div>
<div class="v r" style="top:1658.11px;right:496.79px">45%</div>
<div class="v" style="top:1636.9px;left:586.15px">30%</div>
<div class="v" style="top:1658.11px;left:594.82px">28%</div>
<div class="s" style="top:1647.81px">학생</div>
<div class="c" style="top:1651.31px;left:339.01px">학생</div>
<div class="v r" style="top:1689.95px;right:516.74px">38%</div>
<div class="v r" style="top:1711.15px;right:502.55px">43%</div>
<div class="v" style="top:1689.95px;left:573.15px">33%</div>
<div class="v" style="top:1711.15px;left:590.49px">29%</div>
<div class="s" style="top:1700.85px">정치관심 없다</div>
<div class="c" style="top:1704.35px;left:331.61px">정치관심 없다</div>
<div class="v r" style="top:1742.99px;right:462.05px">57%</div>
<div class="v r" style="top:1764.19px;right:502.55px">43%</div>
<div class="v" style="top:1742.99px;left:564.48px">35%</div>
<div class="v" style="top:1764.19px;left:512.46px">47%</div>
<div class="s" style="top:1753.89px">정의당</div>
<div class="c" style="top:1757.39px;left:331.61px">정의당</div>
<div class="v r" style="top:1796.04px;right:528.25px">34%</div>
<div class="v r" style="top:1817.24px;right:539.96px">30%</div>
<div class="v" style="top:1796.04px;left:456.1px">60%</div>
<div class="v" style="top:1817.24px;left:430.09px">66%</div>
<div class="s" style="top:1806.94px">진보성향</div>
<div class="c" style="top:1810.44px;left:283.54px">진보성향</div>
<div class="v r" style="top:1849.09px;right:557.03px">24%</div>
<div class="v r" style="top:1870.29px;right:554.35px">25%</div>
<div class="v" style="top:1849.09px;left:425.76px">67%</div>
<div class="v" style="top:1870.29px;left:417.09px">69%</div>
<div class="s" style="top:1859.99px">광주/전라</div>
<div class="c" style="top:1863.49px;left:265.05px">광주<span>/</span>전라</div>
<div class="v r" style="top:1902.13px;right:565.66px">21%</div>
<div class="v r" style="top:1923.33px;right:562.98px">22%</div>
<div class="v" style="top:1902.13px;left:395.41px">74%</div>
<div class="v" style="top:1923.33px;left:399.75px">73%</div>
<div class="s" style="top:1913.03px">더불어민주당</div>
<div class="c" style="top:1916.53px;left:253.96px">더불어민주당</div>
<div class="bl" style="left:140.2px">2021.03.18(한국갤럽)</div>
<div class="bl" style="left:297.2px">2021.03.25(한국갤럽)</div>
<div class="bl" style="left:459.2px">2021.03.18(한국갤럽)</div>
<div class="bl" style="left:616.2px">2021.03.25(한국갤럽)</div>
</body></html>
